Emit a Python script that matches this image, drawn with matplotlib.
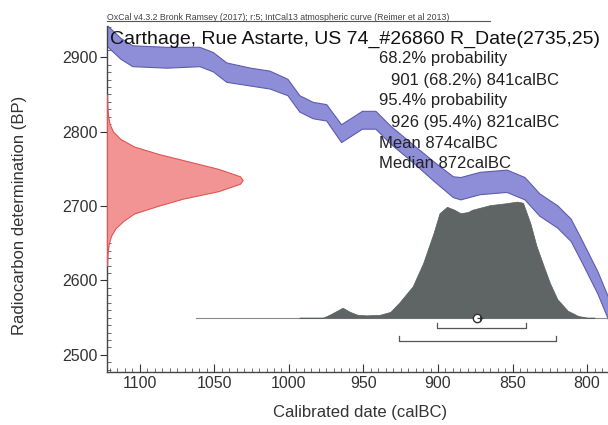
import numpy as np
import matplotlib.pyplot as plt
from matplotlib.ticker import MultipleLocator

plt.rcParams['font.family'] = ['Liberation Sans', 'DejaVu Sans']

# калибровочная кривая IntCal13 (центр и 1 sigma)
cal_year = [1122, 1113, 1105, 1082, 1060, 1051, 1042, 1026, 1013, 1001, 993,
            984, 975, 965, 951, 942, 932, 917, 903, 890, 885, 872, 854, 842,
            832, 820, 811, 803, 793, 786]
cal_bp = [2929, 2912, 2902, 2900, 2901, 2894, 2880, 2874, 2870, 2860, 2838,
          2829, 2826, 2798, 2816, 2816, 2796, 2771, 2747, 2726, 2724, 2731,
          2734, 2724, 2702, 2686, 2668, 2637, 2597, 2563]
cal_sigma = [14, 14, 14, 14, 13, 13, 13, 12, 12, 11, 11,
             11, 11, 12, 12, 12, 12, 12, 13, 14, 15, 15,
             15, 15, 15, 15, 15, 15, 15, 15]

# R_Date(2735,25) - исходное распределение (относительная высота)
rdate_bp = [2620, 2630, 2640, 2650, 2660, 2670, 2680, 2690, 2700, 2710, 2720,
            2730, 2735, 2740, 2750, 2760, 2770, 2780, 2790, 2800, 2810, 2820,
            2830, 2840, 2850]
rdate_p = [0.0, 0.002, 0.006, 0.014, 0.03, 0.062, 0.12, 0.2, 0.37, 0.56, 0.82,
           0.98, 1.0, 0.98, 0.82, 0.6, 0.38, 0.2, 0.1, 0.045, 0.02, 0.009,
           0.004, 0.001, 0.0]

# калиброванное распределение
post_year = [993, 977, 972, 964, 959, 954, 948, 939, 932, 926, 917, 910,
             903, 899, 894, 889, 885, 880, 877, 865, 855, 847, 843, 838,
             834, 829, 825, 820, 813, 806, 800, 795]
post_p = [0, 0, 0.03, 0.086, 0.05, 0.025, 0.02, 0.025, 0.05, 0.13, 0.27, 0.47,
          0.73, 0.9, 0.955, 0.93, 0.9, 0.91, 0.93, 0.97, 0.985, 1.0, 0.99, 0.81,
          0.62, 0.44, 0.3, 0.16, 0.06, 0.015, 0.0, 0]

range68 = (901, 841)
range95 = (926, 821)
mean_cal = 874
median_cal = 872

title = 'Carthage, Rue Astarte, US 74_#26860 R_Date(2735,25)'
header = 'OxCal v4.3.2 Bronk Ramsey (2017); r:5; IntCal13 atmospheric curve (Reimer et al 2013)'
stats = [('68.2% probability', 0),
         ('901 (68.2%) 841calBC', 1),
         ('95.4% probability', 0),
         ('926 (95.4%) 821calBC', 1),
         ('Mean 874calBC', 0),
         ('Median 872calBC', 0)]

W, H = 608, 425
fig = plt.figure(figsize=(W / 100, H / 100), dpi=100)
ax = fig.add_axes([107 / W, (H - 372) / H, (W - 107) / W, (372 - 26) / H])
x0, x1 = 1122, 786
y0, y1 = 2477, 2942
ax.set_xlim(x0, x1)
ax.set_ylim(y0, y1)

# калибровочная кривая
cy = np.array(cal_year)
cb = np.array(cal_bp)
cs = np.array(cal_sigma)
ax.fill_between(cy, cb - cs, cb + cs, facecolor='#8e8ed8', edgecolor='#5c5cb0',
                lw=0.8, zorder=2)

# R_Date по оси Y
red_w = 91
ax.fill_betweenx(rdate_bp, x0, x0 - red_w * np.array(rdate_p),
                 facecolor='#f29494', edgecolor='#e05555', lw=0.8, zorder=3)

# калиброванная дата
base = 2550
post_h = 156
ax.plot([1062, x1], [base, base], color='#8a8a8a', lw=0.8, zorder=3)
ax.fill_between(post_year, base, base + post_h * np.array(post_p),
                facecolor='#5f6565', edgecolor='#5a5f5f', lw=0.5, zorder=4)

# интервалы
for (a, b), yy in [(range68, 2536), (range95, 2519)]:
    ax.plot([a, a, b, b], [yy + 7, yy, yy, yy + 7], color='#555555', lw=0.9,
            zorder=5)
ax.plot(mean_cal, base, 'o', ms=6, mfc='white', mec='#333333', mew=1.0,
        zorder=6)
ax.plot(median_cal, base, '+', ms=4, color='#333333', mew=0.8, zorder=7)

# оси
ax.xaxis.set_major_locator(MultipleLocator(50))
ax.xaxis.set_minor_locator(MultipleLocator(5))
ax.yaxis.set_major_locator(MultipleLocator(100))
ax.yaxis.set_minor_locator(MultipleLocator(10))
ax.tick_params(axis='x', which='major', direction='in', length=6, width=0.8,
               labelsize=11.5, colors='#333333', pad=3)
ax.tick_params(axis='x', which='minor', direction='in', length=3, width=0.6,
               colors='#555555')
ax.tick_params(axis='y', which='major', direction='out', length=5, width=0.8,
               labelsize=11.5, colors='#333333', pad=2)
ax.tick_params(axis='y', which='minor', direction='in', length=3, width=0.6,
               colors='#555555')
for s in ['top', 'right']:
    ax.spines[s].set_visible(False)
for s in ['left', 'bottom']:
    ax.spines[s].set_color('#444444')
    ax.spines[s].set_linewidth(1.0)

fig.text(360 / W, 1 - 412 / H, 'Calibrated date (calBC)', ha='center',
         va='center', fontsize=12, color='#333333')
fig.text(20 / W, 1 - 215 / H, 'Radiocarbon determination (BP)', ha='center',
         va='center', rotation=90, fontsize=12, color='#333333')

# заголовки и статистика
fig.text(107 / W, 1 - 17 / H, header, ha='left', va='center', fontsize=6.3,
         color='#444444')
fig.add_artist(plt.Line2D([107 / W, 490 / W], [1 - 21 / H, 1 - 21 / H],
                          color='#555555', lw=0.8))
fig.text(110 / W, 1 - 39 / H, title, ha='left', va='center', fontsize=14,
         color='#111111', zorder=10)
for i, (s, ind) in enumerate(stats):
    fig.text((379 + 12 * ind) / W, 1 - (59 + 21 * i) / H, s, ha='left',
             va='center', fontsize=12, color='#222222', zorder=10)

fig.savefig('out.png', dpi=100)
